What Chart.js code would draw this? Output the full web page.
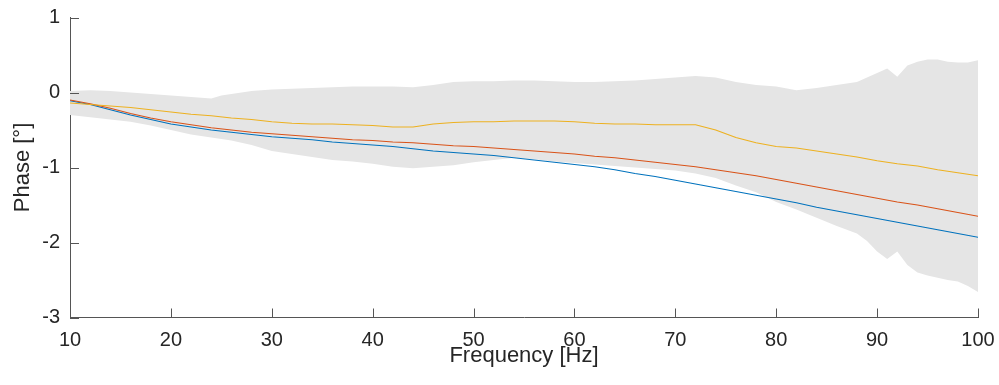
<!DOCTYPE html>
<html>
<head>
<meta charset="utf-8">
<title>Phase vs Frequency</title>
<script src="https://cdn.jsdelivr.net/npm/chart.js@4.4.1/dist/chart.umd.min.js"></script>
<style>
  html, body { margin: 0; padding: 0; background: #ffffff; }
  #wrap { width: 999px; height: 385px; }
</style>
</head>
<body>
<div id="wrap"><canvas id="phaseChart" width="999" height="385"></canvas></div>
<script>
// Frequency grid (Hz) for the three mean curves
const freqs = [10, 12, 14, 16, 18, 20, 22, 24, 26, 28, 30, 32, 34, 36, 38, 40, 42, 44, 46, 48,
               50, 52, 54, 56, 58, 60, 62, 64, 66, 68, 70, 72, 74, 76, 78, 80, 82, 84, 86, 88,
               90, 92, 94, 96, 98, 100];

// Phase curves (degrees)
const phaseBlue = [-0.11, -0.16, -0.23, -0.30, -0.36, -0.42, -0.46, -0.50, -0.53, -0.56,
                   -0.59, -0.61, -0.63, -0.66, -0.68, -0.70, -0.72, -0.75, -0.78, -0.80,
                   -0.82, -0.84, -0.87, -0.90, -0.93, -0.96, -0.99, -1.03, -1.08, -1.12,
                   -1.17, -1.22, -1.27, -1.32, -1.37, -1.42, -1.47, -1.53, -1.58, -1.63,
                   -1.68, -1.73, -1.78, -1.83, -1.88, -1.93];
const phaseRed = [-0.10, -0.15, -0.21, -0.28, -0.34, -0.39, -0.43, -0.47, -0.50, -0.53,
                  -0.55, -0.57, -0.59, -0.61, -0.63, -0.64, -0.66, -0.67, -0.69, -0.71,
                  -0.72, -0.74, -0.76, -0.78, -0.80, -0.82, -0.85, -0.87, -0.90, -0.93,
                  -0.96, -0.99, -1.03, -1.07, -1.11, -1.16, -1.21, -1.26, -1.31, -1.36,
                  -1.41, -1.46, -1.50, -1.55, -1.60, -1.65];
const phaseYellow = [-0.14, -0.16, -0.18, -0.20, -0.23, -0.26, -0.29, -0.31, -0.34, -0.36,
                     -0.39, -0.41, -0.42, -0.42, -0.43, -0.44, -0.46, -0.46, -0.42, -0.40,
                     -0.39, -0.39, -0.38, -0.38, -0.38, -0.39, -0.41, -0.42, -0.42, -0.43,
                     -0.43, -0.43, -0.50, -0.60, -0.67, -0.72, -0.74, -0.78, -0.82, -0.86,
                     -0.91, -0.95, -0.98, -1.03, -1.07, -1.11];

// Spread band (shaded region)
const bandFreqs = [10, 12, 14, 16, 18, 20, 22, 24, 25, 26, 28, 30, 32, 34, 36, 38, 40, 42, 44, 46,
                   48, 50, 52, 54, 56, 58, 60, 62, 64, 66, 68, 70, 72, 74, 76, 78, 80, 82, 84, 86,
                   88, 89, 90, 91, 92, 93, 94, 95, 96, 97, 98, 99, 100];
const bandUpper = [0.02, 0.03, 0.02, 0.00, -0.02, -0.04, -0.06, -0.08, -0.04, -0.02,
                   0.02, 0.04, 0.05, 0.06, 0.07, 0.08, 0.08, 0.08, 0.07, 0.10,
                   0.14, 0.15, 0.15, 0.16, 0.16, 0.15, 0.14, 0.14, 0.15, 0.16,
                   0.18, 0.20, 0.22, 0.20, 0.14, 0.10, 0.08, 0.03, 0.06, 0.10,
                   0.14, 0.20, 0.26, 0.32, 0.21, 0.36, 0.41, 0.44, 0.44, 0.41,
                   0.40, 0.40, 0.43];
const bandLower = [-0.30, -0.33, -0.36, -0.39, -0.44, -0.50, -0.56, -0.60, -0.62, -0.64,
                   -0.70, -0.78, -0.82, -0.86, -0.90, -0.92, -0.95, -0.99, -1.01, -0.99,
                   -0.97, -0.93, -0.90, -0.87, -0.89, -0.92, -0.94, -0.96, -0.98, -1.00,
                   -1.02, -1.04, -1.08, -1.14, -1.24, -1.33, -1.46, -1.56, -1.67, -1.78,
                   -1.88, -1.98, -2.12, -2.22, -2.12, -2.30, -2.40, -2.44, -2.47, -2.50,
                   -2.52, -2.58, -2.66];

// Axis ticks
const xTicks = [10, 20, 30, 40, 50, 60, 70, 80, 90, 100];
const yTicks = [1, 0, -1, -2, -3];

const pts = (xs, ys) => xs.map((x, i) => ({ x: x, y: ys[i] }));

const AXIS_COLOR = '#555555';
const TEXT_COLOR = '#262626';
const FONT_FAMILY = "'Liberation Sans', Arimo, Arial, Helvetica, sans-serif";

// Inward-pointing tick marks on the left and bottom axes
const innerTicks = {
  id: 'innerTicks',
  afterDatasetsDraw(chart) {
    const { ctx, chartArea, scales } = chart;
    const len = 9;
    ctx.save();
    ctx.strokeStyle = AXIS_COLOR;
    ctx.lineWidth = 1;
    ctx.beginPath();
    xTicks.forEach(v => {
      const px = Math.round(scales.x.getPixelForValue(v)) + 0.5;
      ctx.moveTo(px, chartArea.bottom);
      ctx.lineTo(px, chartArea.bottom - len);
    });
    yTicks.forEach(v => {
      const py = Math.round(scales.y.getPixelForValue(v)) + 0.5;
      ctx.moveTo(chartArea.left, py);
      ctx.lineTo(chartArea.left + len, py);
    });
    ctx.stroke();
    ctx.restore();
  }
};

new Chart(document.getElementById('phaseChart'), {
  type: 'line',
  data: {
    datasets: [
      {
        label: 'blue',
        data: pts(freqs, phaseBlue),
        borderColor: '#0072BD',
        borderWidth: 1.2,
        pointRadius: 0,
        fill: false,
        order: 3
      },
      {
        label: 'red',
        data: pts(freqs, phaseRed),
        borderColor: '#D95319',
        borderWidth: 1.2,
        pointRadius: 0,
        fill: false,
        order: 2
      },
      {
        label: 'yellow',
        data: pts(freqs, phaseYellow),
        borderColor: '#EDB120',
        borderWidth: 1.2,
        pointRadius: 0,
        fill: false,
        order: 1
      },
      {
        label: 'upper',
        data: pts(bandFreqs, bandUpper),
        borderWidth: 0,
        borderColor: 'rgba(0,0,0,0)',
        backgroundColor: '#e5e5e5',
        pointRadius: 0,
        fill: '+1',
        order: 10
      },
      {
        label: 'lower',
        data: pts(bandFreqs, bandLower),
        borderWidth: 0,
        borderColor: 'rgba(0,0,0,0)',
        backgroundColor: '#e5e5e5',
        pointRadius: 0,
        fill: false,
        order: 11
      }
    ]
  },
  options: {
    responsive: false,
    animation: false,
    events: [],
    layout: { padding: { top: 17.5, right: 21, left: 0, bottom: 0 } },
    plugins: {
      legend: { display: false },
      tooltip: { enabled: false },
      filler: { propagate: false }
    },
    scales: {
      x: {
        type: 'linear',
        min: 10,
        max: 100,
        afterBuildTicks: s => { s.ticks = xTicks.map(v => ({ value: v })); },
        afterFit: s => {
          s.height = 67.5;
          s.paddingLeft = 0;
          s.paddingRight = 0;
        },
        grid: { display: true, drawOnChartArea: false, drawTicks: false },
        border: { display: true, color: AXIS_COLOR, width: 1 },
        ticks: {
          padding: 11,
          color: TEXT_COLOR,
          font: { family: FONT_FAMILY, size: 20 },
          maxRotation: 0,
          autoSkip: false
        },
        title: {
          display: true,
          text: 'Frequency [Hz]',
          color: TEXT_COLOR,
          font: { family: FONT_FAMILY, size: 22 },
          padding: { top: 0, bottom: 16 }
        }
      },
      y: {
        type: 'linear',
        min: -3,
        max: 1,
        afterBuildTicks: s => { s.ticks = yTicks.map(v => ({ value: v })); },
        afterFit: s => {
          s.width = 70;
          s.paddingTop = 0;
          s.paddingBottom = 0;
        },
        grid: { display: true, drawOnChartArea: false, drawTicks: false },
        border: { display: true, color: AXIS_COLOR, width: 1 },
        ticks: {
          padding: 10,
          color: TEXT_COLOR,
          font: { family: FONT_FAMILY, size: 20 },
          autoSkip: false,
          callback: v => String(v)
        },
        title: {
          display: true,
          text: 'Phase [°]',
          color: TEXT_COLOR,
          font: { family: FONT_FAMILY, size: 22 },
          padding: { top: 10, bottom: 0 }
        }
      }
    }
  },
  plugins: [innerTicks]
});
</script>
</body>
</html>
